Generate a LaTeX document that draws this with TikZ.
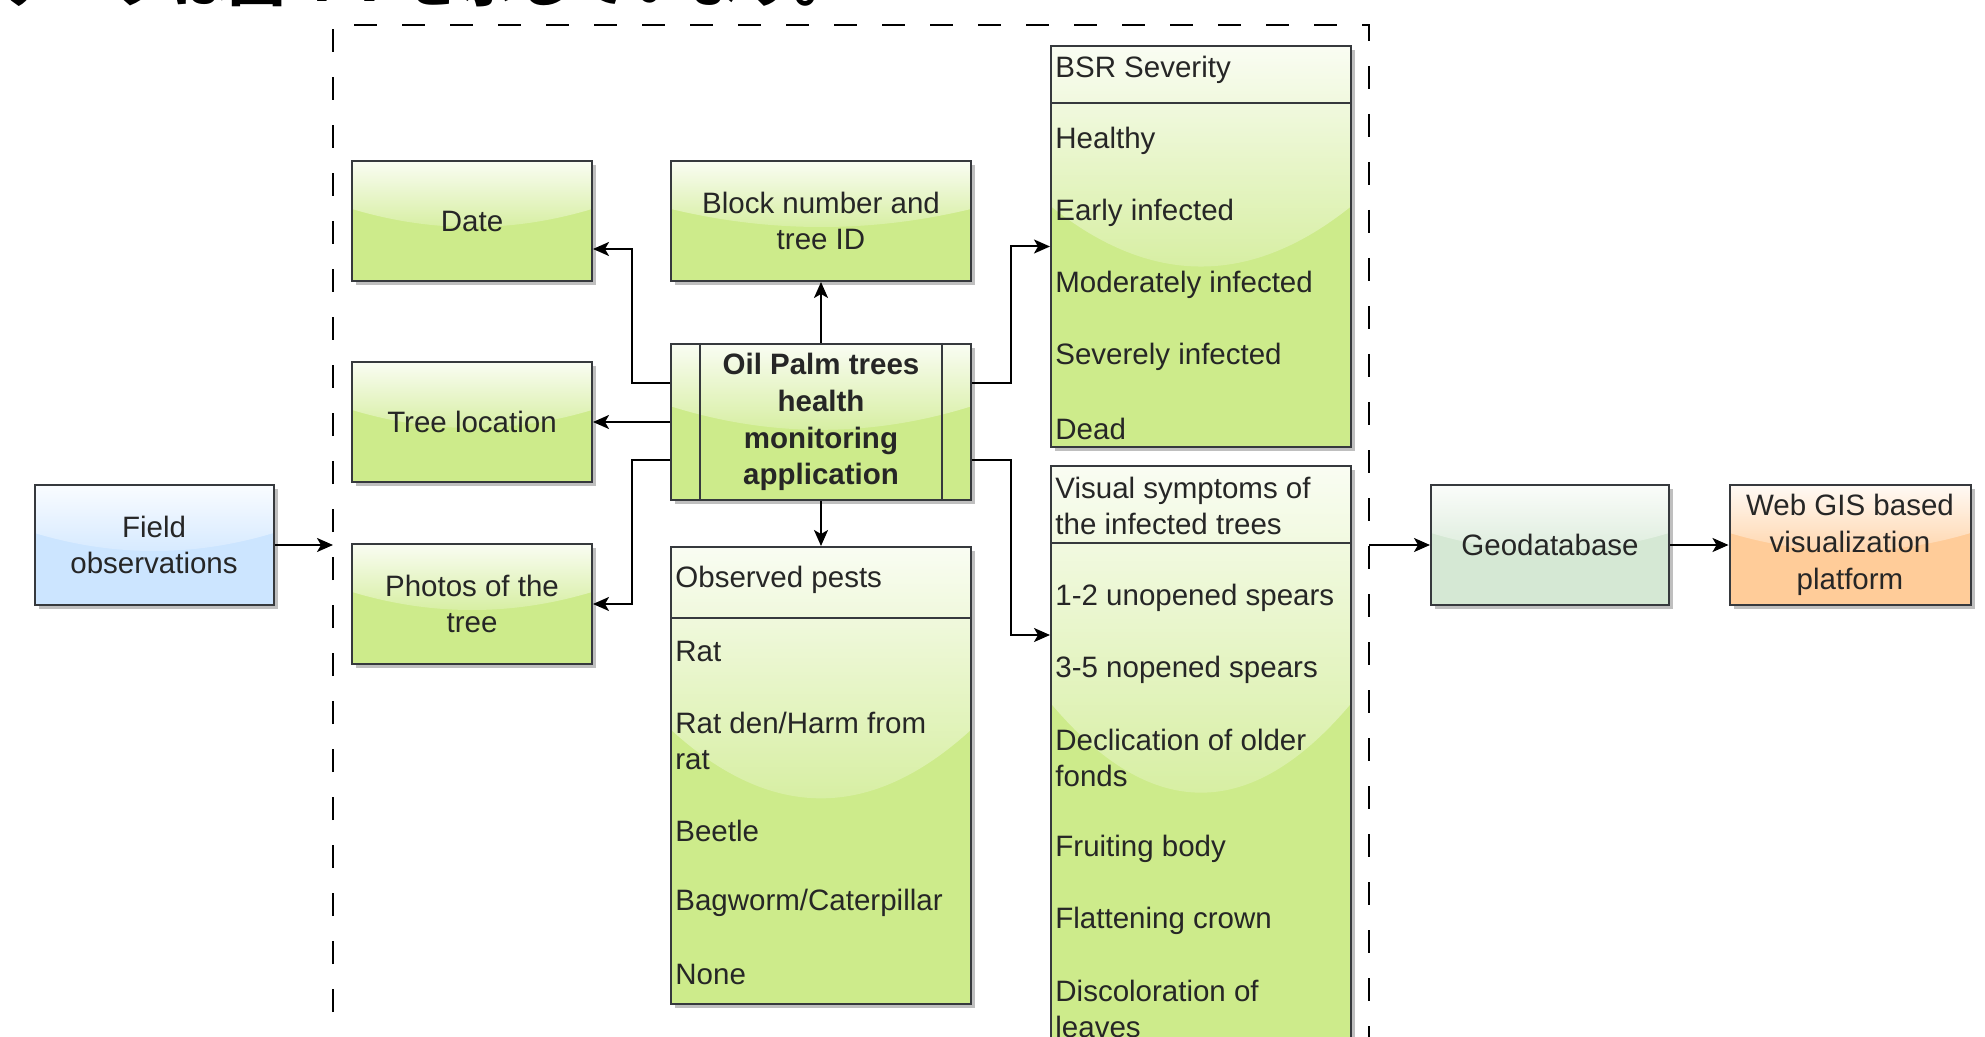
\documentclass[tikz,border=0pt]{standalone}
\usepackage{fontspec}
\setmainfont{Liberation Sans}
\newfontfamily\jpfont{Noto Sans CJK JP}
\usepackage{tikz}
\usetikzlibrary{calc, arrows.meta, shadows, fadings}

\definecolor{leafgreen}{HTML}{CDEB8B}
\definecolor{skyblue}{HTML}{CCE5FF}
\definecolor{sagegreen}{HTML}{D5E8D4}
\definecolor{peach}{HTML}{FFCC99}
\definecolor{edgegray}{HTML}{36393D}
\definecolor{textgray}{HTML}{262626}

\tikzfading[name=glossfade, top color=transparent!10, bottom color=transparent!85]

\tikzset{
  glossy/.style={path picture={
    \coordinate (gA) at (path picture bounding box.north west);
    \coordinate (gB) at (path picture bounding box.south east);
    \coordinate (gL) at ($(gA)!0.4!(gB)$);
    \coordinate (gM) at ($(gA)!0.6!(gB)$);
    \coordinate (gC1) at ($(gA)!1/3!(gB)$);
    \coordinate (gC2) at ($(gA)!2/3!(gB)$);
    \fill[white, path fading=glossfade]
      (gA) -- (gA |- gL) .. controls (gC1 |- gM) and (gC2 |- gM) .. (gB |- gL)
      -- (gB |- gA) -- cycle;
  }},
  box/.style={rectangle, draw=edgegray, line width=1pt, fill=leafgreen, glossy,
    drop shadow={shadow xshift=2pt, shadow yshift=-2pt, opacity=0.25, fill=black},
    text=textgray, align=center, inner sep=0pt,
    font=\fontsize{14.75pt}{18.4pt}\selectfont},
  item/.style={anchor=west, inner sep=0pt, align=left, text=textgray,
    font=\fontsize{14.75pt}{18.4pt}\selectfont},
  divider/.style={draw=edgegray, line width=1pt},
  frame/.style={draw=black, line width=1.2pt, dash pattern=on 11.5pt off 12.5pt},
  link/.style={draw=black, line width=1pt, -{Stealth[length=8pt, width=7pt, inset=2pt]}},
}

\begin{document}
\begin{tikzpicture}[x=0.5pt, y=-0.5pt]
    \useasboundingbox (0,0) rectangle (1985,1037);

    % Heading line, cut by the page edge
    \node[anchor=base west, inner sep=0pt, font=\jpfont\bfseries\fontsize{28.5pt}{30pt}\selectfont] (heading) at (0,2) {データは図 4-7 を示しています。};

    % Frame of the app
    \draw[frame] (333,1060) -- (333,25) -- (1369,25) -- (1369,1060);

    % Nodes
    \node[box, fill=skyblue, minimum width=119.5pt, minimum height=60pt] (field) at (154,545) {Field\\observations};
    \node[box, minimum width=120pt, minimum height=60pt] (date) at (472,221) {Date};
    \node[box, minimum width=120pt, minimum height=60pt] (trloc) at (472,422) {Tree location};
    \node[box, minimum width=120pt, minimum height=60pt] (photo) at (472,604) {Photos of the\\tree};
    \node[box, minimum width=150pt, minimum height=60pt] (block) at (821,221) {Block number and\\tree ID};
    \node[box, minimum width=150pt, minimum height=78pt, font=\fontsize{14.75pt}{18.4pt}\selectfont\bfseries] (app) at (821,422) {Oil Palm trees\\health\\monitoring\\application};
    \draw[divider] ($(app.north west)+(30,0)$) -- ($(app.south west)+(30,0)$);
    \draw[divider] ($(app.north east)+(-30,0)$) -- ($(app.south east)+(-30,0)$);

    % BSR severity list
    \node[box, minimum width=150pt, minimum height=200.5pt] (bsr) at (1201,246.5) {};
    \draw[divider] ($(bsr.north west)+(0,58)$) -- ($(bsr.north east)+(0,58)$);
    \node[item] (bsrhead) at (1055,70) {BSR Severity};
    \node[item] (bsr1) at (1055,141) {Healthy};
    \node[item] (bsr2) at (1055,213) {Early infected};
    \node[item] (bsr3) at (1055,285) {Moderately infected};
    \node[item] (bsr4) at (1055,357) {Severely infected};
    \node[item] (bsr5) at (1055,429) {Dead};

    % Symptoms list
    \node[box, minimum width=150pt, minimum height=297pt] (vis) at (1201,763) {};
    \draw[divider] ($(vis.north west)+(0,78)$) -- ($(vis.north east)+(0,78)$);
    \node[item] (vishead) at (1055,506) {Visual symptoms of\\the infected trees};
    \node[item] (vis1) at (1055,598) {1-2 unopened spears};
    \node[item] (vis2) at (1055,670) {3-5 nopened spears};
    \node[item] (vis3) at (1055,758) {Declication of older\\fonds};
    \node[item] (vis4) at (1055,849) {Fruiting body};
    \node[item] (vis5) at (1055,921) {Flattening crown};
    \node[item] (vis6) at (1055,1009) {Discoloration of\\leaves};

    % Pests list
    \node[box, minimum width=150pt, minimum height=228.5pt] (pests) at (821,775.5) {};
    \draw[divider] ($(pests.north west)+(0,72)$) -- ($(pests.north east)+(0,72)$);
    \node[item] (pesthead) at (675,580) {Observed pests};
    \node[item] (pest1) at (675,651) {Rat};
    \node[item] (pest2) at (675,741) {Rat den/Harm from\\rat};
    \node[item] (pest3) at (675,831) {Beetle};
    \node[item] (pest4) at (675,903) {Bagworm/Caterpillar};
    \node[item] (pest5) at (675,974) {None};

    \node[box, fill=sagegreen, minimum width=119pt, minimum height=60pt] (geo) at (1550,545) {Geodatabase};
    \node[box, fill=peach, minimum width=120.5pt, minimum height=60pt] (webgis) at (1850,545) {Web GIS based\\visualization\\platform};

    \coordinate (frameL) at (333,545);
    \coordinate (frameR) at (1369,545);

    % Lines
    \draw[link] (field) -- (frameL);
    \draw[link] ($(app.north west)+(0,40)$) -- ++(-38,0) |- ($(date.east)+(0,28)$);
    \draw[link] (app.west) -- (trloc.east);
    \draw[link] ($(app.north west)+(0,117)$) -- ++(-38,0) |- (photo.east);
    \draw[link] (app.north) -- (block.south);
    \draw[link] (app.south) -- (pests.north);
    \draw[link] ($(app.north east)+(0,40)$) -- ++(39,0) |- (bsr.west);
    \draw[link] ($(app.north east)+(0,117)$) -- ++(39,0) |- ($(vis.north west)+(0,170)$);
    \draw[link] (frameR) -- (geo.west);
    \draw[link] (geo) -- (webgis);
\end{tikzpicture}
\end{document}
